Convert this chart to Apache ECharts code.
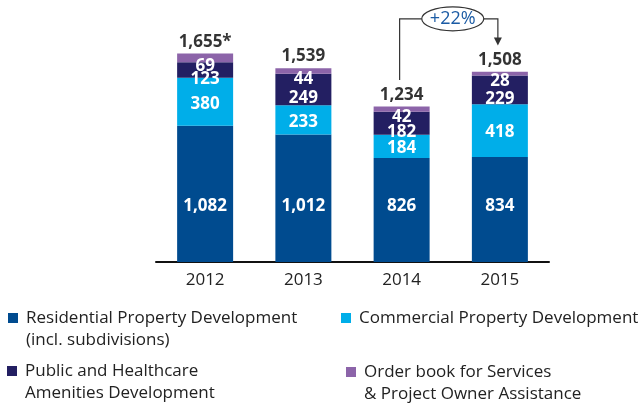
<!DOCTYPE html>
<html>
<head>
<meta charset="UTF-8">
<title>Order book</title>
<script src="https://cdn.jsdelivr.net/npm/echarts@6/dist/echarts.min.js"></script>
<style>
html, body { margin: 0; padding: 0; background: #fff; }
#chart { width: 640px; height: 405px; }
</style>
</head>
<body>
<div id="chart"></div>
<script>
var years = ['2012', '2013', '2014', '2015'];
var residential = [1082, 1012, 826, 834];
var commercial = [380, 233, 184, 418];
var publicHealth = [123, 249, 182, 229];
var services = [69, 44, 42, 28];
var totals = [1655, 1539, 1234, 1508];
var totalMarks = ['*', '', '', ''];
var growthLabel = '+22%';
var seriesNames = [
  'Residential Property Development\n(incl. subdivisions)',
  'Commercial Property Development',
  'Public and Healthcare\nAmenities Development',
  'Order book for Services\n& Project Owner Assistance'
];
var colors = ['#004b8f', '#00aee9', '#231f62', '#8c64a9'];

var font = '"Open Sans", sans-serif';
function fmt(v) { return Number(v).toLocaleString('en-US'); }

var chart = echarts.init(document.getElementById('chart'));

function segLabel(offset) {
  return {
    show: true,
    position: 'inside',
    offset: offset,
    color: '#fff',
    fontWeight: 'bold',
    fontSize: 17,
    fontFamily: font,
    formatter: function (p) { return fmt(p.value); }
  };
}

// legend box per item; multi-line names get a blank first line so the
// square lines up with the first text line
function legendAt(i, left, top) {
  return {
    data: [seriesNames[i]],
    left: left,
    top: top,
    padding: 0,
    itemWidth: 16,
    itemHeight: 10,
    icon: 'path://M0,0h10v10h-10z',
    selectedMode: false,
    formatter: function (name) {
      return name.indexOf('\n') >= 0 ? ' \n' + name : name;
    },
    textStyle: { fontSize: 17, color: '#222', fontFamily: font, lineHeight: 22 }
  };
}

var option = {
  animation: false,
  color: colors,
  grid: { left: 156, right: 91, top: 10, bottom: 143 },
  legend: [
    legendAt(0, 8, 285),
    legendAt(1, 341, 307),
    legendAt(2, 7, 338),
    legendAt(3, 346, 339)
  ],
  xAxis: {
    type: 'category',
    data: years,
    axisLine: { lineStyle: { color: '#111', width: 2 } },
    axisTick: { show: false },
    axisLabel: { color: '#222', fontSize: 17, margin: 10, fontFamily: font }
  },
  yAxis: { type: 'value', min: 0, max: 2000, show: false, splitLine: { show: false } },
  series: [
    {
      name: seriesNames[0], type: 'bar', stack: 'total', barWidth: 56, data: residential,
      label: Object.assign(segLabel([0, 0]), { position: 'insideBottom', distance: 47 })
    },
    { name: seriesNames[1], type: 'bar', stack: 'total', barWidth: 56, data: commercial, label: segLabel([0, 2]) },
    { name: seriesNames[2], type: 'bar', stack: 'total', barWidth: 56, data: publicHealth, label: segLabel([0, 9]) },
    { name: seriesNames[3], type: 'bar', stack: 'total', barWidth: 56, data: services, label: segLabel([0, 8]) },
    {
      name: 'total', type: 'scatter', symbolSize: 0, silent: true, data: totals,
      label: {
        show: true, position: 'top', distance: 3, color: '#000', fontWeight: 'bold', fontSize: 17,
        fontFamily: font,
        formatter: function (p) { return fmt(p.value) + totalMarks[p.dataIndex]; }
      }
    }
  ]
};
chart.setOption(option);

// growth bracket from 2014 to 2015
var legLift = 210;
var a = chart.convertToPixel({ gridIndex: 0 }, [2, totals[2] + legLift]);
var b = chart.convertToPixel({ gridIndex: 0 }, [3, totals[3] + legLift]);
var topY = chart.convertToPixel({ gridIndex: 0 }, [2, 1930])[1];
var lx = a[0] - 2, rx = b[0] - 2;
var cx = (lx + rx) / 2 + 4, rxE = 31, ryE = 12;
chart.setOption({
  graphic: [
    { type: 'polyline', shape: { points: [[lx, a[1]], [lx, topY], [cx - rxE, topY]] }, style: { stroke: '#333', lineWidth: 1.2, fill: null } },
    { type: 'polyline', shape: { points: [[cx + rxE, topY], [rx, topY], [rx, b[1] - 7]] }, style: { stroke: '#333', lineWidth: 1.2, fill: null } },
    { type: 'polygon', shape: { points: [[rx - 4, b[1] - 8], [rx + 4, b[1] - 8], [rx, b[1]]] }, style: { fill: '#333' } },
    { type: 'ellipse', shape: { cx: cx, cy: topY, rx: rxE, ry: ryE }, style: { fill: '#fff', stroke: '#333', lineWidth: 1.2 } },
    {
      type: 'text', x: cx, y: topY,
      style: { text: growthLabel, fill: '#1b5ba4', fontSize: 18, fontFamily: font, align: 'center', verticalAlign: 'middle' }
    }
  ]
});
</script>
</body>
</html>
